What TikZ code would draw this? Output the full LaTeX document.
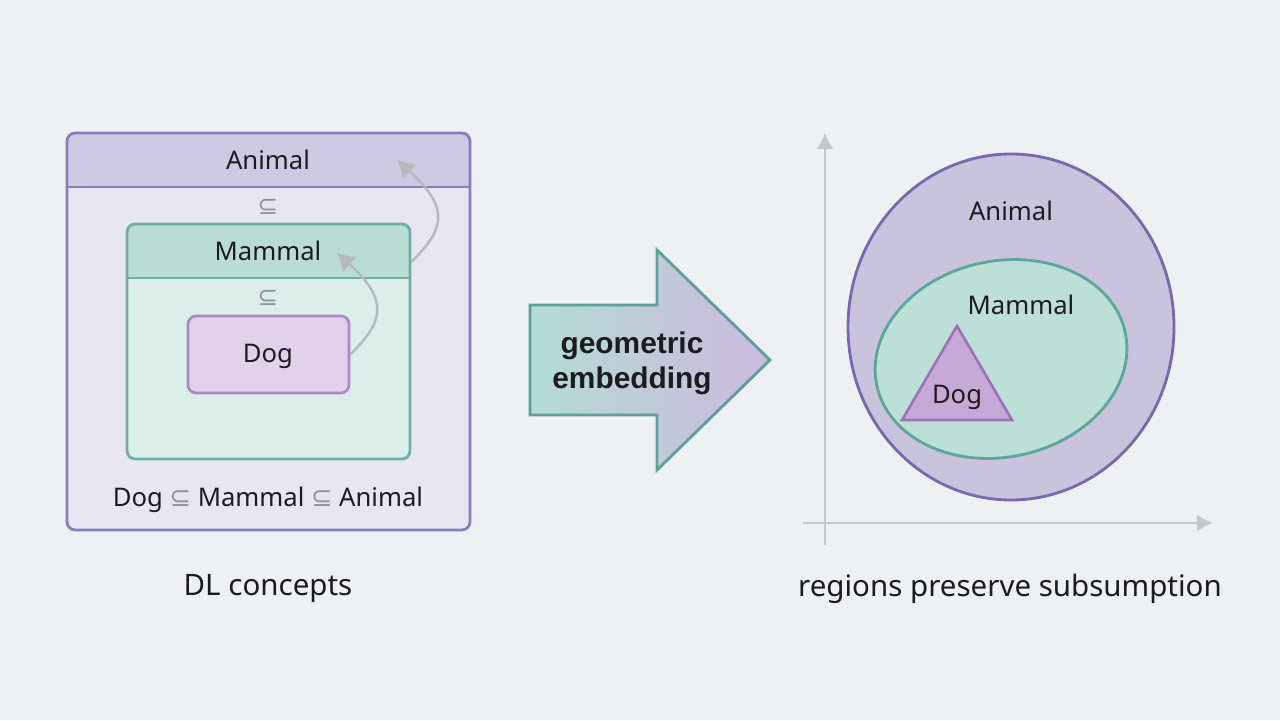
\documentclass[tikz,border=0pt]{standalone}
\usepackage{fontspec}
\setmainfont{Noto Sans}
\newfontfamily\symfont{DejaVu Sans}
\newfontfamily\headfont{Liberation Sans}
\usetikzlibrary{positioning,calc,arrows.meta}
\definecolor{bgcol}{HTML}{EEF1F4}
\definecolor{ink}{HTML}{1C1C1E}
\definecolor{subgrey}{HTML}{8E939A}
\definecolor{animalline}{HTML}{8A7EBA}
\definecolor{animalhead}{HTML}{CFCAE4}
\definecolor{animalbody}{HTML}{E8E6F2}
\definecolor{mammalline}{HTML}{6FB0A5}
\definecolor{mammalhead}{HTML}{B9DCD5}
\definecolor{mammalbody}{HTML}{DCEEEA}
\definecolor{dogline}{HTML}{A98AC4}
\definecolor{dogbody}{HTML}{E3D1EB}
\definecolor{arcgrey}{HTML}{B6BABF}
\definecolor{axisgrey}{HTML}{C3C7CC}
\definecolor{embedline}{HTML}{5E9F98}
\definecolor{embedleft}{HTML}{B3DCD5}
\definecolor{embedright}{HTML}{CDB9DF}
\definecolor{animalfill}{HTML}{C9C3DE}
\definecolor{animaledge}{HTML}{7869AE}
\definecolor{mammalfill}{HTML}{BCDFD7}
\definecolor{mammaledge}{HTML}{5BA79A}
\definecolor{dogfill}{HTML}{C7A9D7}
\definecolor{dogedge}{HTML}{9A74B8}
\tikzset{conceptbox/.style n args={3}{
    draw=#1, fill=#2, line width=1.6pt, rounded corners=0.16cm, inner sep=0pt,
    path picture={
        \fill[#3, sharp corners]
            (path picture bounding box.north west) rectangle ([yshift=-1.08cm]path picture bounding box.north east);
        \draw[#1, line width=1.6pt, sharp corners]
            ([yshift=-1.08cm]path picture bounding box.north west) -- ([yshift=-1.08cm]path picture bounding box.north east);
        }
    },
    dogbox/.style={draw=dogline, fill=dogbody, line width=1.5pt, rounded corners=0.16cm, inner sep=0pt},
    lbl/.style={font=\fontsize{14.6}{17}\selectfont, text=ink, inner sep=0pt},
    sub/.style={font=\symfont\fontsize{14}{17}\selectfont, text=subgrey, inner sep=0pt},
    caption/.style={font=\fontsize{16.8}{20}\selectfont, text=ink, inner sep=0pt},
    subarrow/.style={draw=arcgrey, line width=1.4pt, -{Latex[length=3.4mm,width=4.2mm]}},
    axis/.style={draw=axisgrey, line width=1.2pt, -{Latex[length=3.2mm,width=3.4mm]}},
    embedlbl/.style={font=\headfont\bfseries\fontsize{17}{20}\selectfont, text=ink, align=center, inner sep=0pt}
}
\begin{document}
\begin{tikzpicture}[x=0.02cm,y=0.02cm]
		\fill[bgcol] (0,0) rectangle (1280,720);
		\useasboundingbox (0,0) rectangle (1280,720);

		\node[conceptbox={animalline}{animalbody}{animalhead}, minimum width=8.06cm, minimum height=7.94cm] (animalbox) at (268.5,388.5) {};
		\node[conceptbox={mammalline}{mammalbody}{mammalhead}, minimum width=5.66cm, minimum height=4.70cm] (mammalbox) at (268.5,378.5) {};
		\node[dogbox, minimum width=3.22cm, minimum height=1.54cm] (dogbox) at (268.5,365.5) {};

		\node[lbl] (animal) at (268,560) {Animal};
		\node[sub] (subA) at (268,513) {⊆};
		\node[lbl] (mammal) at (268,469) {Mammal};
		\node[sub] (subM) at (268,422) {⊆};
		\node[lbl] (dog) at (268,364) {Dog};
		\node[lbl] (chain) at (268,220) {Dog \textcolor{subgrey}{\symfont ⊆} Mammal \textcolor{subgrey}{\symfont ⊆} Animal};
		\node[caption] (dlcap) at (268,131) {DL concepts};

		\coordinate (mammalside) at ([yshift=-0.22cm]mammalbox.east |- mammal);
		\coordinate (animaltip) at (397,560);
		\coordinate (mammaltip) at (337,467);
		\draw[subarrow] (mammalside) to[out=45,in=-42,out looseness=1.1,in looseness=1.85] (animaltip);
		\draw[subarrow] (dogbox.east) to[out=45,in=-42,out looseness=1.1,in looseness=1.83] (mammaltip);

		\draw[draw=embedline, line width=1.6pt, left color=embedleft, right color=embedright]
			(530,305) -- (530,415) -- (657,415) -- (657,470) -- (770,360) -- (657,250) -- (657,305) -- cycle;
		\node[embedlbl] (embed) at (632,357) {geometric\\embedding};

		\coordinate (origin) at (825,197);
		\draw[axis] (825,175) -- (825,587);
		\draw[axis] (803,197) -- (1213,197);

		\draw[fill=animalfill, draw=animaledge, line width=1.6pt] (1011,393) ellipse [x radius=163, y radius=173];
		\draw[fill=mammalfill, draw=mammaledge, line width=1.6pt, rotate around={12:(1001,361)}] (1001,361) ellipse [x radius=127, y radius=98];
		\draw[fill=dogfill, draw=dogedge, line width=1.5pt] (957,394) -- (1012,300) -- (902,300) -- cycle;

		\node[lbl] (animalreg) at (1011,509) {Animal};
		\node[lbl] (mammalreg) at (1021,415) {Mammal};
		\node[lbl] (dogreg) at (957,323) {Dog};
		\node[caption] (regcap) at (1010,131) {regions preserve subsumption};
	\end{tikzpicture}
\end{document}
